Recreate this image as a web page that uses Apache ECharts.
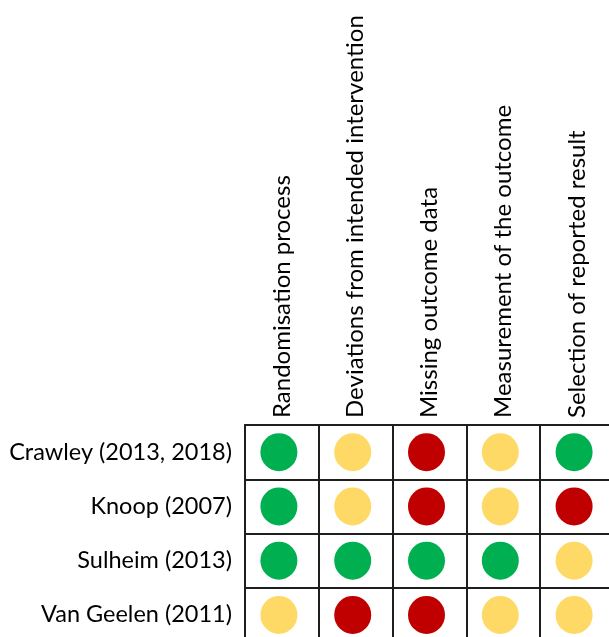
<!DOCTYPE html>
<html>
<head>
<meta charset="utf-8">
<script src="https://cdn.jsdelivr.net/npm/echarts@6/dist/echarts.min.js"></script>
<style>
html,body{margin:0;padding:0;background:#fff;}
#chart{width:609px;height:637px;}
</style>
</head>
<body>
<div id="chart"></div>
<script>
var studies = ['Crawley (2013, 2018)', 'Knoop (2007)', 'Sulheim (2013)', 'Van Geelen (2011)'];
var domains = ['Randomisation process', 'Deviations from intended intervention', 'Missing outcome data', 'Measurement of the outcome', 'Selection of reported result'];
var crawley = ['low', 'some', 'high', 'some', 'low'];
var knoop = ['low', 'some', 'high', 'some', 'high'];
var sulheim = ['low', 'low', 'low', 'low', 'some'];
var vanGeelen = ['some', 'high', 'high', 'some', 'some'];
var judgements = [crawley, knoop, sulheim, vanGeelen];
var colours = { low: '#00B050', some: '#FFD966', high: '#C00000' };

var data = [];
judgements.forEach(function (row, r) {
  row.forEach(function (j, c) {
    data.push({ value: [c, r], itemStyle: { color: colours[j], opacity: 1 } });
  });
});

var lineStyle = { color: '#1e1e1e', width: 2 };
var chart = echarts.init(document.getElementById('chart'));
chart.setOption({
  animation: false,
  grid: { left: 245, top: 425, width: 369, height: 217, outerBoundsMode: 'none', containLabel: false },
  xAxis: {
    type: 'category', position: 'top', data: domains,
    axisLine: { show: true, lineStyle: lineStyle },
    axisTick: { show: false },
    splitLine: { show: true, lineStyle: lineStyle },
    axisLabel: { rotate: -90, margin: 7, color: '#000', fontFamily: 'Lato', fontSize: 24, interval: 0 }
  },
  yAxis: {
    type: 'category', inverse: true, data: studies,
    axisLine: { show: true, lineStyle: lineStyle },
    axisTick: { show: false },
    splitLine: { show: true, lineStyle: lineStyle },
    axisLabel: { margin: 13, color: '#000', fontFamily: 'Lato', fontSize: 23.5, interval: 0 }
  },
  series: [{
    type: 'scatter', data: data, symbol: 'circle', symbolSize: [37, 38], symbolOffset: [-3, 0],
    itemStyle: { opacity: 1 }
  }]
});
</script>
</body>
</html>
